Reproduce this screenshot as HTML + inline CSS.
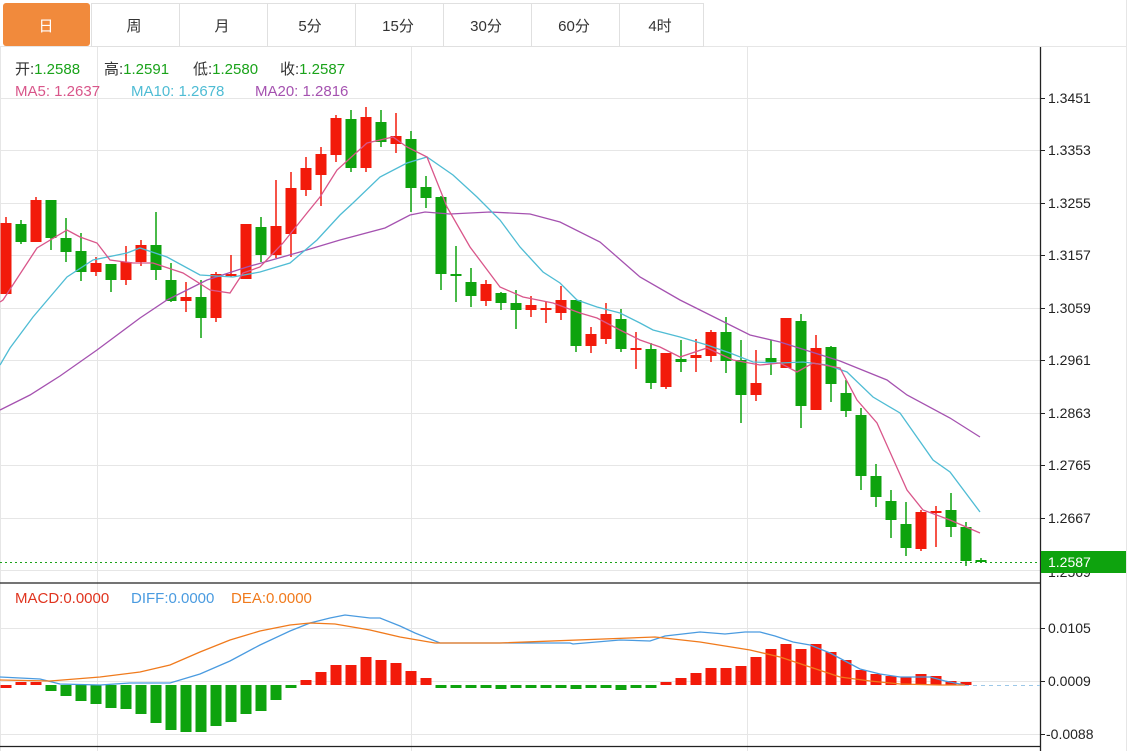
<!DOCTYPE html>
<html><head><meta charset="utf-8"><style>
html,body{margin:0;padding:0;background:#fff;width:1134px;height:751px;overflow:hidden;font-family:"Liberation Sans","Noto Sans CJK SC",sans-serif}
svg{position:absolute;left:0;top:0}
</style></head><body>
<svg id="s" width="1134" height="751" xmlns="http://www.w3.org/2000/svg" font-family="Liberation Sans, Noto Sans CJK SC, sans-serif">
<g stroke="#e6e6e6" stroke-width="1">
<line x1="0" y1="46.5" x2="1126" y2="46.5"/>
<line x1="1126.5" y1="0" x2="1126.5" y2="751"/>
<line x1="0.5" y1="46" x2="0.5" y2="751"/>
<line x1="97.5" y1="47" x2="97.5" y2="751"/>
<line x1="411.5" y1="47" x2="411.5" y2="751"/>
<line x1="747.5" y1="47" x2="747.5" y2="751"/>
<line x1="0" y1="98.5" x2="1040" y2="98.5"/>
<line x1="0" y1="150.5" x2="1040" y2="150.5"/>
<line x1="0" y1="203.5" x2="1040" y2="203.5"/>
<line x1="0" y1="255.5" x2="1040" y2="255.5"/>
<line x1="0" y1="308.5" x2="1040" y2="308.5"/>
<line x1="0" y1="360.5" x2="1040" y2="360.5"/>
<line x1="0" y1="413.5" x2="1040" y2="413.5"/>
<line x1="0" y1="465.5" x2="1040" y2="465.5"/>
<line x1="0" y1="518.5" x2="1040" y2="518.5"/>
<line x1="0" y1="570.5" x2="1040" y2="570.5"/>
<line x1="0" y1="628.5" x2="1040" y2="628.5"/>
<line x1="0" y1="681.5" x2="1040" y2="681.5"/>
<line x1="0" y1="734.5" x2="1040" y2="734.5"/>
</g>
<g stroke="#e0e0e0" fill="#fff">
<rect x="91.5" y="3.5" width="88" height="43"/><rect x="179.5" y="3.5" width="88" height="43"/>
<rect x="267.5" y="3.5" width="88" height="43"/><rect x="355.5" y="3.5" width="88" height="43"/>
<rect x="443.5" y="3.5" width="88" height="43"/><rect x="531.5" y="3.5" width="88" height="43"/>
<rect x="619.5" y="3.5" width="84" height="43"/>
</g>
<rect x="3" y="3" width="87" height="43" rx="3" fill="#f18a3c"/>
<g font-size="15" fill="#333" text-anchor="middle">
<text x="46" y="31" fill="#fff">日</text><text x="134" y="31">周</text><text x="222" y="31">月</text>
<text x="310" y="31">5分</text><text x="398" y="31">15分</text><text x="486" y="31">30分</text>
<text x="574" y="31">60分</text><text x="660" y="31">4时</text>
</g>
<g font-size="15">
<text x="15" y="74" fill="#333">开:<tspan fill="#1aa31a">1.2588</tspan></text>
<text x="104" y="74" fill="#333">高:<tspan fill="#1aa31a">1.2591</tspan></text>
<text x="193" y="74" fill="#333">低:<tspan fill="#1aa31a">1.2580</tspan></text>
<text x="280" y="74" fill="#333">收:<tspan fill="#1aa31a">1.2587</tspan></text>
<text x="15" y="96" fill="#d9568a">MA5: 1.2637</text>
<text x="131" y="96" fill="#4fbcd4">MA10: 1.2678</text>
<text x="255" y="96" fill="#a552b0">MA20: 1.2816</text>
<text x="15" y="603" fill="#e0341f">MACD:0.0000</text>
<text x="131" y="603" fill="#4a9be0">DIFF:0.0000</text>
<text x="231" y="603" fill="#f07a1c">DEA:0.0000</text>
</g>
<g id="c"></g>
<line x1="0" y1="583" x2="1040" y2="583" stroke="#222" stroke-width="1.3"/>
<line x1="0" y1="746.5" x2="1040" y2="746.5" stroke="#222" stroke-width="1.3"/>
<line x1="1040.5" y1="47" x2="1040.5" y2="751" stroke="#222" stroke-width="1.3"/>
<line x1="0" y1="562.5" x2="1040" y2="562.5" stroke="#1aa31a" stroke-dasharray="2,3"/>
<line x1="965" y1="685.5" x2="1040" y2="685.5" stroke="#9cc8e8" stroke-dasharray="4,4"/>
<g stroke="#222"><line x1="1040" y1="98.5" x2="1045" y2="98.5"/><line x1="1040" y1="150.5" x2="1045" y2="150.5"/><line x1="1040" y1="203.5" x2="1045" y2="203.5"/><line x1="1040" y1="255.5" x2="1045" y2="255.5"/><line x1="1040" y1="308.5" x2="1045" y2="308.5"/><line x1="1040" y1="360.5" x2="1045" y2="360.5"/><line x1="1040" y1="413.5" x2="1045" y2="413.5"/><line x1="1040" y1="465.5" x2="1045" y2="465.5"/><line x1="1040" y1="518.5" x2="1045" y2="518.5"/><line x1="1040" y1="628.5" x2="1045" y2="628.5"/><line x1="1040" y1="681.5" x2="1045" y2="681.5"/><line x1="1040" y1="734.5" x2="1045" y2="734.5"/></g>
<g font-size="14" fill="#222">
<text x="1048" y="103">1.3451</text><text x="1048" y="155">1.3353</text><text x="1048" y="208">1.3255</text>
<text x="1048" y="260">1.3157</text><text x="1048" y="313">1.3059</text><text x="1048" y="365">1.2961</text>
<text x="1048" y="418">1.2863</text><text x="1048" y="470">1.2765</text><text x="1048" y="523">1.2667</text>
<text x="1048" y="577">1.2569</text>
<text x="1048" y="633">0.0105</text><text x="1048" y="686">0.0009</text><text x="1046" y="739">-0.0088</text>
</g>
<rect x="1041" y="551" width="85" height="22" fill="#0ea30e"/>
<text x="1048" y="567" font-size="14" fill="#fff">1.2587</text>
</svg>
<script>
var R="#f21a0a",G="#0ea30e";
var C=[[223,294,217,294,R],[224,242,220,244,G],[200,242,197,242,R],[200,238,200,250,G],[238,252,218,262,G],[251,272,233,281,G],[263,272,257,276,R],[264,280,264,292,G],[262,280,246,285,R],[245,262,240,266,R],[245,270,212,280,G],[280,301,263,302,G],[297,301,282,312,R],[297,318,280,338,G],[274,318,272,322,R],[274,276,255,277,R],[224,279,224,279,R],[227,255,217,262,G],[226,255,180,258,R],[188,234,172,257,R],[168,190,157,196,R],[154,175,147,206,R],[118,155,115,162,R],[119,168,110,172,G],[117,168,107,172,R],[122,142,110,147,G],[136,144,113,153,R],[139,188,131,212,G],[187,198,176,208,G],[197,274,196,290,G],[274,276,246,302,G],[282,296,268,307,G],[284,301,280,306,R],[293,303,292,310,G],[303,310,290,329,G],[305,310,296,317,R],[308,310,302,323,R],[300,313,286,320,R],[300,346,300,352,G],[334,346,327,353,R],[314,339,303,344,R],[319,349,309,352,G],[348,350,332,369,R],[349,383,343,389,G],[353,387,353,389,R],[359,362,340,372,G],[355,358,339,372,R],[332,356,330,362,R],[332,361,317,373,G],[360,395,340,423,G],[383,395,350,401,R],[358,362,340,375,G],[318,368,318,368,R],[321,406,314,428,G],[348,410,335,410,R],[347,384,346,402,G],[393,411,380,417,G],[415,476,408,490,G],[476,497,464,507,G],[501,520,490,538,G],[524,548,502,556,G],[512,549,510,551,R],[511,513,506,547,R],[510,527,493,537,G],[527,561,522,566,G],[560,562,558,563,G]];
var M=[685,683,683,691,696,701,704,708,709,714,723,730,732,732,726,722,714,711,700,688,680,672,665,665,657,660,663,671,678,688,688,688,688,689,688,688,688,688,689,688,688,690,688,688,682,678,673,668,668,666,657,649,644,649,644,652,660,670,674,676,677,674,676,681,684];
var Z=685,h='';
C.forEach(function(c,i){var x=6+15*i;h+='<line x1="'+x+'" y1="'+c[2]+'" x2="'+x+'" y2="'+c[3]+'" stroke="'+c[4]+'" stroke-width="1.5"/>';h+='<rect x="'+(x-5.5)+'" y="'+c[0]+'" width="11" height="'+Math.max(2,c[1]-c[0])+'" fill="'+c[4]+'"/>';});
M.forEach(function(v,i){var x=6+15*i;var col=(i<3||(i>=20&&i<29)||i>=44)?R:G;var t=Math.min(v,Z),b=Math.max(v,Z);if(b-t<3){if(v<Z){t=Z-3;b=Z}else{t=Z;b=Z+3}}h+='<rect x="'+(x-5.5)+'" y="'+t+'" width="11" height="'+(b-t)+'" fill="'+col+'"/>';});
function P(pts,col,w){return '<polyline fill="none" stroke="'+col+'" stroke-width="'+(w||1.3)+'" points="'+pts+'"/>';}
h+=P("0,410 30,395 60,376 97,350 140,318 167,300 207,280 247,267 300,252 340,240 385,228 410,215 425,212 450,214 490,212 530,214 560,222 600,242 640,277 680,300 700,310 750,335 780,342 840,361 887,380 907,395 950,418 980,437","#a552b0");
h+=P("0,365 10,348 33,317 67,277 93,260 127,253 140,248 167,257 200,275 233,277 260,272 290,263 317,240 340,215 353,203 380,177 407,163 427,157 453,175 477,197 500,220 520,247 543,272 560,283 577,300 597,307 620,313 640,323 653,330 680,337 707,345 730,353 753,362 780,363 803,362 827,365 847,372 873,397 900,413 933,460 950,472 980,512","#4fbcd4");
h+=P("0,302 3,300 37,248 67,230 80,237 97,243 110,260 133,263 153,263 183,273 210,290 230,293 243,273 260,267 283,243 307,213 320,197 337,170 367,143 393,137 407,147 427,157 447,207 470,247 500,287 523,297 553,303 580,313 597,318 620,330 640,340 660,347 680,357 707,348 733,360 760,365 780,363 797,372 813,363 840,368 857,400 877,423 907,490 923,510 950,520 980,533","#d9568a");
h+=P("0,677 40,679 60,684 100,685 130,683 170,683 200,674 230,661 260,645 290,631 310,623 330,618 345,615 370,618 380,618 400,626 415,633 440,643 500,643 570,643 573,644 620,640 650,641 665,636 700,632 725,634 745,632 760,632 775,636 793,642 810,645 830,653 860,669 880,674 900,677 930,677 945,681 965,685","#4a9be0");
h+=P("0,680 50,681 100,677 140,672 170,665 200,652 230,640 260,631 290,625 310,623 335,624 370,630 400,637 435,643 500,643 655,637 700,642 750,650 780,657 810,667 840,677 870,681 900,684 940,685 965,685","#f07a1c");
document.getElementById('c').innerHTML=h;
</script>
</body></html>
